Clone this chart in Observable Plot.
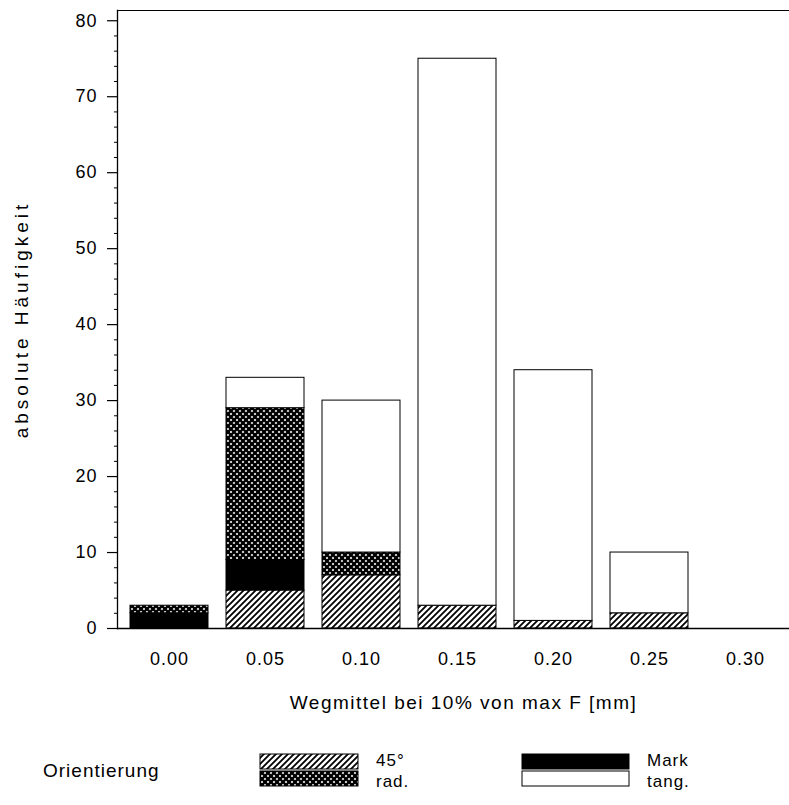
<!DOCTYPE html>
<html>
<head>
<meta charset="utf-8">
<script src="https://cdn.jsdelivr.net/npm/d3@7"></script>
<script src="https://cdn.jsdelivr.net/npm/@observablehq/plot@0.6"></script>
<style>
  html, body { margin: 0; padding: 0; background: #fff; }
  #wrap { position: relative; width: 789px; height: 805px; font-family: "Liberation Sans", Arial, sans-serif; }
  #legend { position: relative; width: 789px; height: 70px; font-size: 17px; letter-spacing: 1px; color: #000; }
  #legend .t { position: absolute; line-height: 20px; height: 20px; white-space: nowrap; }
  #legend .title { font-size: 19px; }
  #legend svg { position: absolute; }
</style>
</head>
<body>
<svg width="0" height="0" style="position:absolute">
  <defs>
    <pattern id="h45" patternUnits="userSpaceOnUse" width="6" height="6">
      <rect width="6" height="6" fill="#fff"/>
      <path d="M-1,7 L7,-1 M-4,4 L4,-4 M2,10 L10,2" stroke="#000" stroke-width="1.8"/>
    </pattern>
    <pattern id="xh" patternUnits="userSpaceOnUse" width="6" height="6">
      <rect width="6" height="6" fill="#fff"/>
      <path d="M-1,7 L7,-1 M-4,4 L4,-4 M2,10 L10,2 M-1,-1 L7,7 M-4,2 L4,10 M2,-4 L10,4" stroke="#000" stroke-width="2.4"/>
    </pattern>
  </defs>
</svg>
<div id="wrap">
  <div id="chart"></div>
  <div id="legend"></div>
</div>
<script>
// ---- data ----
const categories = ["0.00", "0.05", "0.10", "0.15", "0.20", "0.25", "0.30"];
const orientations = ["45°", "Mark", "rad.", "tang."];
const values45 = [0, 5, 7, 3, 1, 2, 0];
const valuesMark = [2, 4, 0, 0, 0, 0, 0];
const valuesRad = [1, 20, 3, 0, 0, 0, 0];
const valuesTang = [0, 4, 20, 72, 33, 8, 0];
const yTicks = [0, 10, 20, 30, 40, 50, 60, 70, 80];
const yMinorTicks = [2, 4, 6, 8, 12, 14, 16, 18, 22, 24, 26, 28, 32, 34, 36, 38, 42, 44, 46, 48, 52, 54, 56, 58, 62, 64, 66, 68, 72, 74, 76, 78];
const yMax = 81.35;
const fills = ["url(#h45)", "#000", "url(#xh)", "#fff"];
const legendTitle = "Orientierung";
const xLabel = "Wegmittel bei 10% von max F [mm]";
const yLabel = "absolute Häufigkeit";

const series = [values45, valuesMark, valuesRad, valuesTang];
const rows = [];
categories.forEach((c, i) => {
  orientations.forEach((o, k) => {
    if (series[k][i] > 0) rows.push({cat: c, orient: o, value: series[k][i]});
  });
});

const chart = Plot.plot({
  width: 789,
  height: 735,
  marginLeft: 117,
  marginRight: 0,
  marginTop: 10,
  marginBottom: 107,
  style: {fontFamily: "'Liberation Sans', Arial, sans-serif", fontSize: "18px", color: "#000", background: "#fff"},
  x: {type: "band", domain: categories, range: [117, 797], paddingInner: 0.186, paddingOuter: 0.1},
  y: {domain: [0, yMax]},
  color: {type: "ordinal", domain: orientations, range: fills},
  marks: [
    Plot.barY(rows, Plot.stackY({x: "cat", y: "value", fill: "orient", order: orientations, stroke: "#000", strokeWidth: 1})),
    Plot.frame({anchor: "top", stroke: "#000", strokeWidth: 1}),
    Plot.frame({anchor: "left", stroke: "#000", strokeWidth: 1.3}),
    Plot.ruleY([0], {stroke: "#000", strokeWidth: 1.3}),
    Plot.axisY({ticks: yMinorTicks, tickSize: 3, text: null, label: null, strokeWidth: 1}),
    Plot.axisY({ticks: yTicks, tickSize: 10, tickPadding: 10, tickFormat: d => String(d), fontSize: 18,
      label: yLabel, labelAnchor: "center", labelArrow: false, labelOffset: 103, strokeWidth: 1.2}),
    Plot.axisX({tickSize: 0, tickPadding: 24, fontSize: 18, label: xLabel, labelAnchor: "center", labelArrow: false, labelOffset: 80})
  ]
});
document.getElementById("chart").appendChild(chart);

// text styling tweaks
chart.querySelectorAll("text").forEach(t => {
  const s = t.textContent;
  if (s === yLabel) { t.style.letterSpacing = "4px"; t.style.fontSize = "19px"; }
  else if (s === xLabel) { t.style.letterSpacing = "1.5px"; t.style.fontSize = "19px"; t.setAttribute("dx", "10"); }
  else t.style.letterSpacing = "1px";
});

// ---- legend ----
const legend = document.getElementById("legend");
function addText(str, left, top, cls) {
  const d = document.createElement("div");
  d.className = "t" + (cls ? " " + cls : ""); d.textContent = str;
  d.style.left = left + "px"; d.style.top = top + "px";
  legend.appendChild(d);
}
function addSwatch(fill, left, top, w, h) {
  const ns = "http://www.w3.org/2000/svg";
  const s = document.createElementNS(ns, "svg");
  s.setAttribute("width", w + 2); s.setAttribute("height", h + 2);
  s.style.left = (left - 1) + "px"; s.style.top = (top - 1) + "px";
  const r = document.createElementNS(ns, "rect");
  r.setAttribute("x", 1); r.setAttribute("y", 1);
  r.setAttribute("width", w); r.setAttribute("height", h);
  r.setAttribute("fill", fill); r.setAttribute("stroke", "#000"); r.setAttribute("stroke-width", 1);
  s.appendChild(r);
  legend.appendChild(s);
}
// legend layout: two columns of two entries
const legendCols = [[0, 2], [1, 3]];
addText(legendTitle, 43, 26, "title");
legendCols.forEach((col, ci) => {
  const swLeft = ci === 0 ? 260 : 522;
  const swW = ci === 0 ? 98 : 107;
  col.forEach((k, ri) => {
    const top = 19 + ri * 17;
    addSwatch(fills[k], swLeft, top, swW, 15);
    addText(orientations[k], swLeft + swW + 18, 16 + ri * 21);
  });
});
</script>
</body>
</html>
